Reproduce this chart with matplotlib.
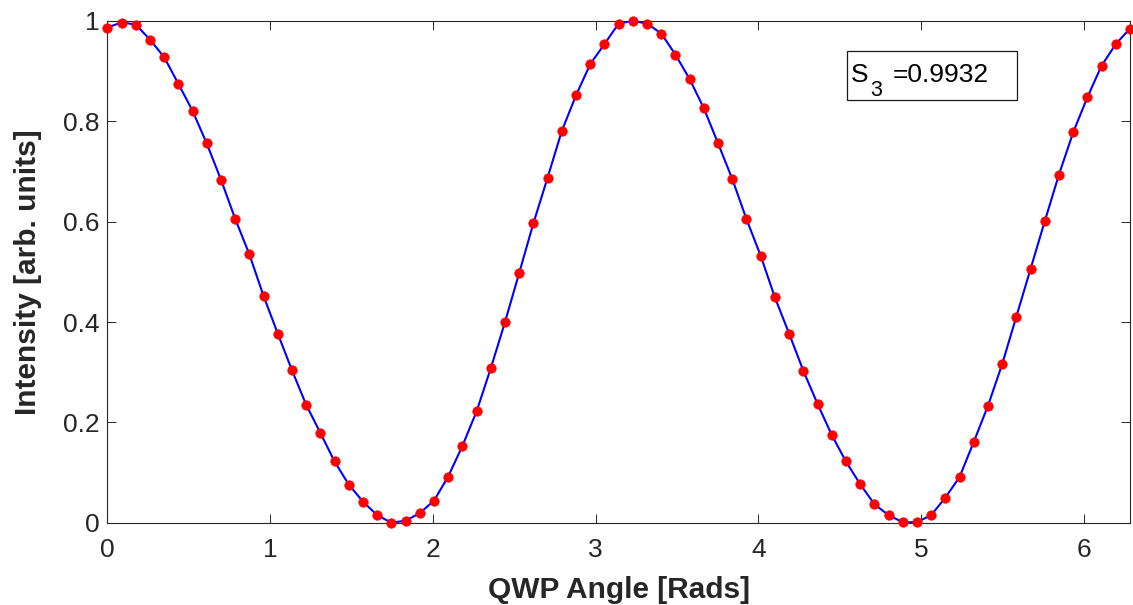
import numpy as np
import matplotlib
matplotlib.use("Agg")
import matplotlib.pyplot as plt
from matplotlib.patches import Rectangle

# ---- data ----
angle_deg = list(range(0, 361, 5))          # QWP angle sampling, degrees
intensity = [
    0.987, 0.997, 0.993, 0.963, 0.928, 0.875, 0.821, 0.756, 0.684, 0.606,
    0.535, 0.452, 0.377, 0.304, 0.235, 0.179, 0.122, 0.076, 0.042, 0.015,
    0.000, 0.004, 0.019, 0.044, 0.092, 0.153, 0.222, 0.308, 0.400, 0.498,
    0.597, 0.688, 0.781, 0.852, 0.914, 0.954, 0.995, 1.000, 0.995, 0.975,
    0.933, 0.884, 0.826, 0.756, 0.685, 0.605, 0.532, 0.449, 0.377, 0.303,
    0.237, 0.175, 0.122, 0.077, 0.037, 0.015, 0.001, 0.001, 0.015, 0.050,
    0.091, 0.161, 0.233, 0.316, 0.411, 0.506, 0.601, 0.694, 0.778, 0.848,
    0.911, 0.954, 0.985,
]
x_ticks = [0, 1, 2, 3, 4, 5, 6]
y_ticks = [0, 0.2, 0.4, 0.6, 0.8, 1]
y_tick_labels = ["0", "0.2", "0.4", "0.6", "0.8", "1"]
s3_symbol, s3_sub, s3_value = "S", "3", "=0.9932"

qwp_angle = np.deg2rad(angle_deg)

plt.rcParams["font.family"] = ["Liberation Sans", "DejaVu Sans"]

W, H = 1133, 605
fig = plt.figure(figsize=(W / 100, H / 100), dpi=100)
ax_l, ax_r, ax_t, ax_b = 107.3, 1130.0, 21.0, 522.7
ax = fig.add_axes([ax_l / W, 1 - ax_b / H, (ax_r - ax_l) / W, (ax_b - ax_t) / H])

ax.plot(qwp_angle, intensity, color="#0000ff", lw=1.5, zorder=2)
ax.plot(qwp_angle, intensity, "o", color="#ff0000", ms=6.8, mec="#ff0000",
        mew=0.5, clip_on=False, zorder=3)

ax.set_xlim(0, 2 * np.pi)
ax.set_ylim(0, 1)
ax.set_xticks(x_ticks)
ax.set_yticks(y_ticks)
ax.set_yticklabels(y_tick_labels)

axcol = "#262626"
for s in ax.spines.values():
    s.set_color(axcol)
    s.set_linewidth(0.8)
ax.tick_params(direction="in", length=6.5, width=0.7, colors=axcol,
               top=True, right=True, labelsize=19)
ax.tick_params(axis="x", pad=11.0)
ax.tick_params(axis="y", pad=5.6)

ax.set_xlabel("QWP Angle [Rads]", fontsize=21.5, fontweight="bold", color=axcol)
ax.set_ylabel("Intensity [arb. units]", fontsize=21.5, fontweight="bold", color=axcol)
ax.xaxis.set_label_coords(0.5, -(576 - ax_b) / (ax_b - ax_t))
ax.yaxis.set_label_coords(-(ax_l - 42) / (ax_r - ax_l), 0.5)

# annotation box (S_3 value)
fig.patches.append(Rectangle((847 / W, 1 - 100 / H), 170 / W, 49 / H,
                             transform=fig.transFigure, fill=True, facecolor="white",
                             edgecolor="#1a1a1a", lw=0.9, zorder=5))
fig.text(851 / W, 1 - 82 / H, s3_symbol, fontsize=19, color="black",
         va="baseline", ha="left", zorder=6)
fig.text(870 / W, 1 - 95.5 / H, s3_sub, fontsize=15.5, color="black",
         va="baseline", ha="left", zorder=6)
fig.text(893 / W, 1 - 82 / H, s3_value, fontsize=19, color="black",
         va="baseline", ha="left", zorder=6)

fig.savefig("out.png", dpi=100)
